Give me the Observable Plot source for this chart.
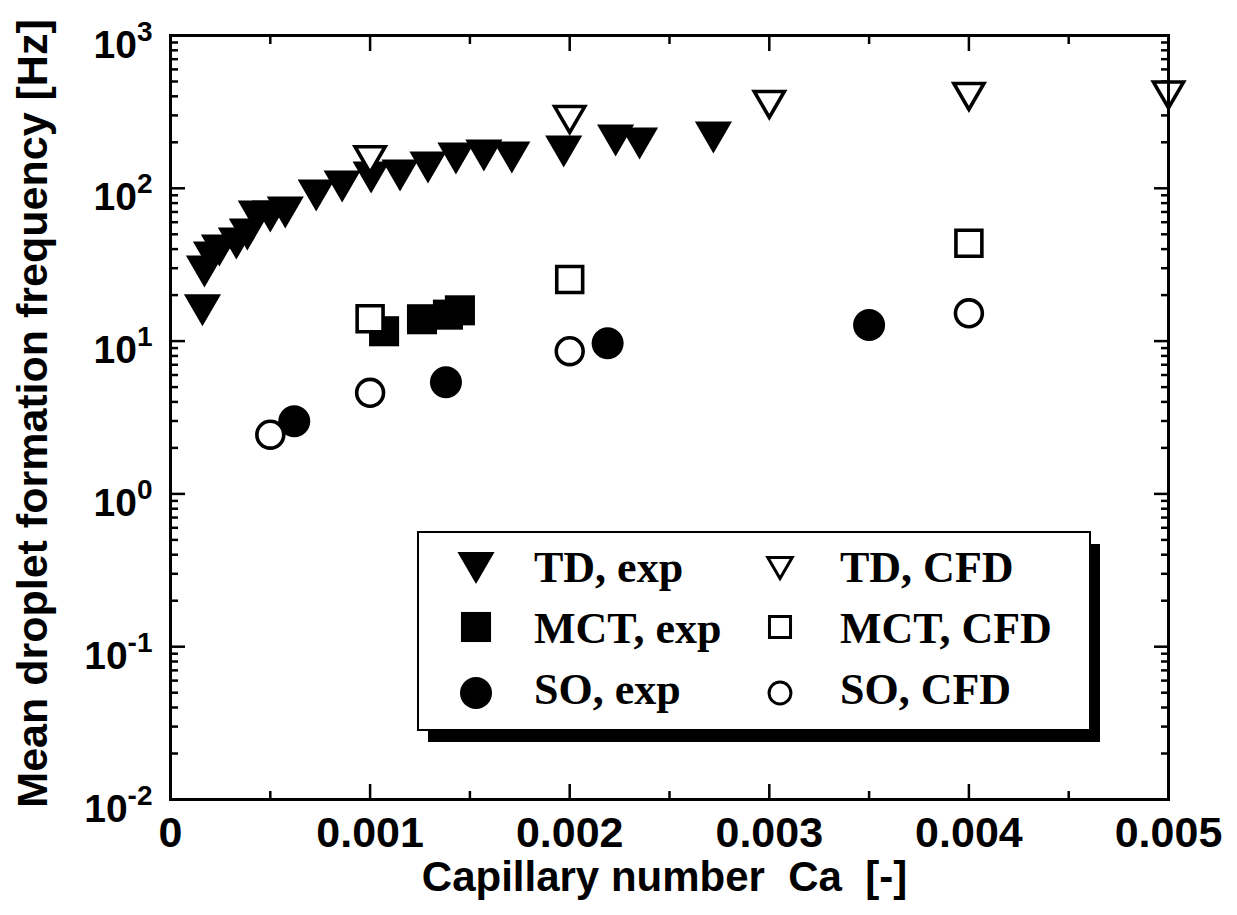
<!DOCTYPE html>
<html>
<head>
<meta charset="utf-8">
<script src="https://cdn.jsdelivr.net/npm/d3@7"></script>
<script src="https://cdn.jsdelivr.net/npm/@observablehq/plot@0.6"></script>
<style>
  body { margin: 0; background: #fff; }
  #chart { width: 1237px; height: 915px; }
</style>
</head>
<body>
<div id="chart"></div>
<script>
// ---------------- data ----------------
const tdExpCa = [0.00016, 0.00017, 0.000205, 0.000245, 0.00033, 0.000385, 0.00043, 0.0005, 0.000575,
                 0.00073, 0.00086, 0.001005, 0.00115, 0.00129, 0.00143, 0.00157, 0.00171, 0.00197,
                 0.00223, 0.00235, 0.00272];
const tdExpF  = [15.9, 28.5, 35.3, 39.2, 43.5, 49.8, 65.4, 65.4, 69.4,
                 89.7, 102.8, 117.7, 121.3, 136.8, 156.7, 163.9, 159.1, 174.1,
                 205.5, 196.4, 215];
const tdCfdCa = [0.001, 0.002, 0.003, 0.004, 0.005];
const tdCfdF  = [154, 282, 354, 399, 408];
const mctExpCa = [0.00107, 0.00126, 0.00139, 0.00145];
const mctExpF  = [11.6, 13.9, 14.9, 15.9];
const mctCfdCa = [0.001, 0.002, 0.004];
const mctCfdF  = [14.0, 25.3, 43.7];
const soExpCa = [0.00062, 0.00138, 0.00219, 0.0035];
const soExpF  = [2.99, 5.38, 9.69, 12.75];
const soCfdCa = [0.0005, 0.001, 0.002, 0.004];
const soCfdF  = [2.44, 4.59, 8.59, 15.2];

const xTicks = [0, 0.001, 0.002, 0.003, 0.004, 0.005];
const xTickLabels = ["0", "0.001", "0.002", "0.003", "0.004", "0.005"];
const xMinorTicks = [0.0005, 0.0015, 0.0025, 0.0035, 0.0045];
const yMajorTicks = [0.01, 0.1, 1, 10, 100, 1000];
const yTickExponents = ["-2", "-1", "0", "1", "2", "3"];
const yMinorTicks = yMajorTicks.slice(0, -1).flatMap(d => [2, 3, 4, 5, 6, 7, 8, 9].map(k => k * d));

const xTitle = "Capillary number\u00a0 Ca\u00a0 [-]";
const yTitle = "Mean droplet formation frequency [Hz]";

// ---------------- custom marker symbols ----------------
const unit = size => Math.sqrt(size / Math.PI);
const triDownFilled = { draw(ctx, size) { const r = unit(size), hw = 1.16 * r;
  ctx.moveTo(-hw, -r); ctx.lineTo(hw, -r); ctx.lineTo(0, r); ctx.closePath(); } };
const triDownOpen = { draw(ctx, size) { const r = unit(size), hw = 0.94 * r, h = 0.81 * r;
  ctx.moveTo(-hw, -h); ctx.lineTo(hw, -h); ctx.lineTo(0, h); ctx.closePath(); } };
const squareFilled = { draw(ctx, size) { const r = unit(size), a = 0.94 * r;
  ctx.rect(-a, -a, 2 * a, 2 * a); } };
const squareOpen = { draw(ctx, size) { const r = unit(size), a = 0.81 * r;
  ctx.rect(-a, -a, 2 * a, 2 * a); } };
const circleFilled = { draw(ctx, size) { const r = unit(size);
  ctx.moveTo(r, 0); ctx.arc(0, 0, r, 0, 2 * Math.PI); } };
const circleOpen = { draw(ctx, size) { const r = unit(size) * 0.84;
  ctx.moveTo(r, 0); ctx.arc(0, 0, r, 0, 2 * Math.PI); } };

const series = [
  { name: "TD, exp",   ca: tdExpCa,  f: tdExpF,  symbol: triDownFilled, open: false },
  { name: "MCT, exp",  ca: mctExpCa, f: mctExpF, symbol: squareFilled,  open: false },
  { name: "SO, exp",   ca: soExpCa,  f: soExpF,  symbol: circleFilled,  open: false },
  { name: "TD, CFD",   ca: tdCfdCa,  f: tdCfdF,  symbol: triDownOpen,   open: true },
  { name: "MCT, CFD",  ca: mctCfdCa, f: mctCfdF, symbol: squareOpen,    open: true },
  { name: "SO, CFD",   ca: soCfdCa,  f: soCfdF,  symbol: circleOpen,    open: true }
];

const dotMarks = series.map(s => Plot.dot(
  s.ca.map((c, i) => ({ ca: c, f: s.f[i], series: s.name })),
  s.open
    ? { x: "ca", y: "f", symbol: s.symbol, r: 16, fill: "white", stroke: "black", strokeWidth: 3.6 }
    : { x: "ca", y: "f", symbol: s.symbol, r: 16, fill: "black" }
));

const tickStyle = { strokeWidth: 2.5, label: null, tickFormat: () => "" };

const chart = Plot.plot({
  width: 1237,
  height: 915,
  marginLeft: 170,
  marginRight: 69,
  marginTop: 35,
  marginBottom: 116,
  x: { type: "linear", domain: [0, 0.005] },
  y: { type: "log", domain: [0.01, 1000] },
  style: { fontFamily: "'Liberation Sans', Arial, sans-serif", fontWeight: "bold", fontSize: "43px",
           color: "black", background: "white", overflow: "visible" },
  marks: [
    // inward ticks on all four sides
    Plot.axisX(xTicks, { anchor: "bottom", tickSize: -15, ...tickStyle }),
    Plot.axisX(xMinorTicks, { anchor: "bottom", tickSize: -8, ...tickStyle }),
    Plot.axisX(xTicks, { anchor: "top", tickSize: -15, ...tickStyle }),
    Plot.axisX(xMinorTicks, { anchor: "top", tickSize: -8, ...tickStyle }),
    Plot.axisY(yMajorTicks, { anchor: "left", tickSize: -15, ...tickStyle }),
    Plot.axisY(yMinorTicks, { anchor: "left", tickSize: -8, ...tickStyle }),
    Plot.axisY(yMajorTicks, { anchor: "right", tickSize: -15, ...tickStyle }),
    Plot.axisY(yMinorTicks, { anchor: "right", tickSize: -8, ...tickStyle }),
    // tick labels
    Plot.axisX(xTicks, { anchor: "bottom", tickSize: 0, tickPadding: 17, label: null, fontSize: 43,
      tickFormat: d => xTickLabels[xTicks.indexOf(d)] }),
    Plot.axisY(yMajorTicks, { anchor: "left", tickSize: 0, tickPadding: 18, label: null, fontSize: 39,
      tickFormat: d => yTickExponents[yMajorTicks.indexOf(d)] }),
    // titles
    Plot.text([xTitle], { frameAnchor: "bottom", text: d => d, textAnchor: "middle", lineAnchor: "bottom",
      dy: 91, dx: -5, fontSize: 42, fontWeight: "bold" }),
    Plot.text([yTitle], { frameAnchor: "left", text: d => d, textAnchor: "middle", rotate: -90,
      lineAnchor: "bottom", dx: -124, dy: -4, fontSize: 43, fontWeight: "bold" }),
    // data
    ...dotMarks,
    Plot.frame({ stroke: "black", strokeWidth: 3 })
  ]
});

document.getElementById("chart").appendChild(chart);

// superscript exponents on the y tick labels
d3.select(chart).selectAll('g[aria-label="y-axis tick label"] text').each(function () {
  const t = this.textContent;
  if (!t) return;
  const sel = d3.select(this);
  sel.attr("y", null).attr("dy", null).text(null);
  sel.append("tspan").attr("dy", 22).text("10");
  sel.append("tspan").attr("dy", -17).attr("font-size", 28).text(t);
});

// legend box with drop shadow
const svg = d3.select(chart);
const lg = svg.append("g").attr("aria-label", "legend").attr("text-anchor", "start");
const box = { x: 418, y: 532, w: 672, h: 198, sdx: 10, sdy: 12 };
lg.append("rect").attr("x", box.x + box.sdx).attr("y", box.y + box.sdy)
  .attr("width", box.w).attr("height", box.h).attr("fill", "black");
lg.append("rect").attr("x", box.x).attr("y", box.y).attr("width", box.w).attr("height", box.h)
  .attr("fill", "white").attr("stroke", "black").attr("stroke-width", 2);
const cols = [{ sx: 476, tx: 534, r: 16 }, { sx: 780, tx: 840, r: 13 }];
const rows = [{ sy: 568, base: 582 }, { sy: 627, base: 643 }, { sy: 693, base: 704 }];
series.forEach((s, i) => {
  const c = cols[s.open ? 1 : 0], rw = rows[i % 3];
  lg.append("path")
    .attr("transform", `translate(${c.sx},${rw.sy})`)
    .attr("d", d3.symbol().type(s.symbol).size(Math.PI * c.r * c.r)())
    .attr("fill", s.open ? "white" : "black")
    .attr("stroke", s.open ? "black" : "none")
    .attr("stroke-width", 3);
  lg.append("text").attr("x", c.tx).attr("y", rw.base)
    .attr("text-anchor", "start")
    .attr("font-family", "'Liberation Serif', 'Times New Roman', serif")
    .attr("font-weight", "bold").attr("font-size", 44).attr("fill", "black")
    .text(s.name);
});
</script>
</body>
</html>
